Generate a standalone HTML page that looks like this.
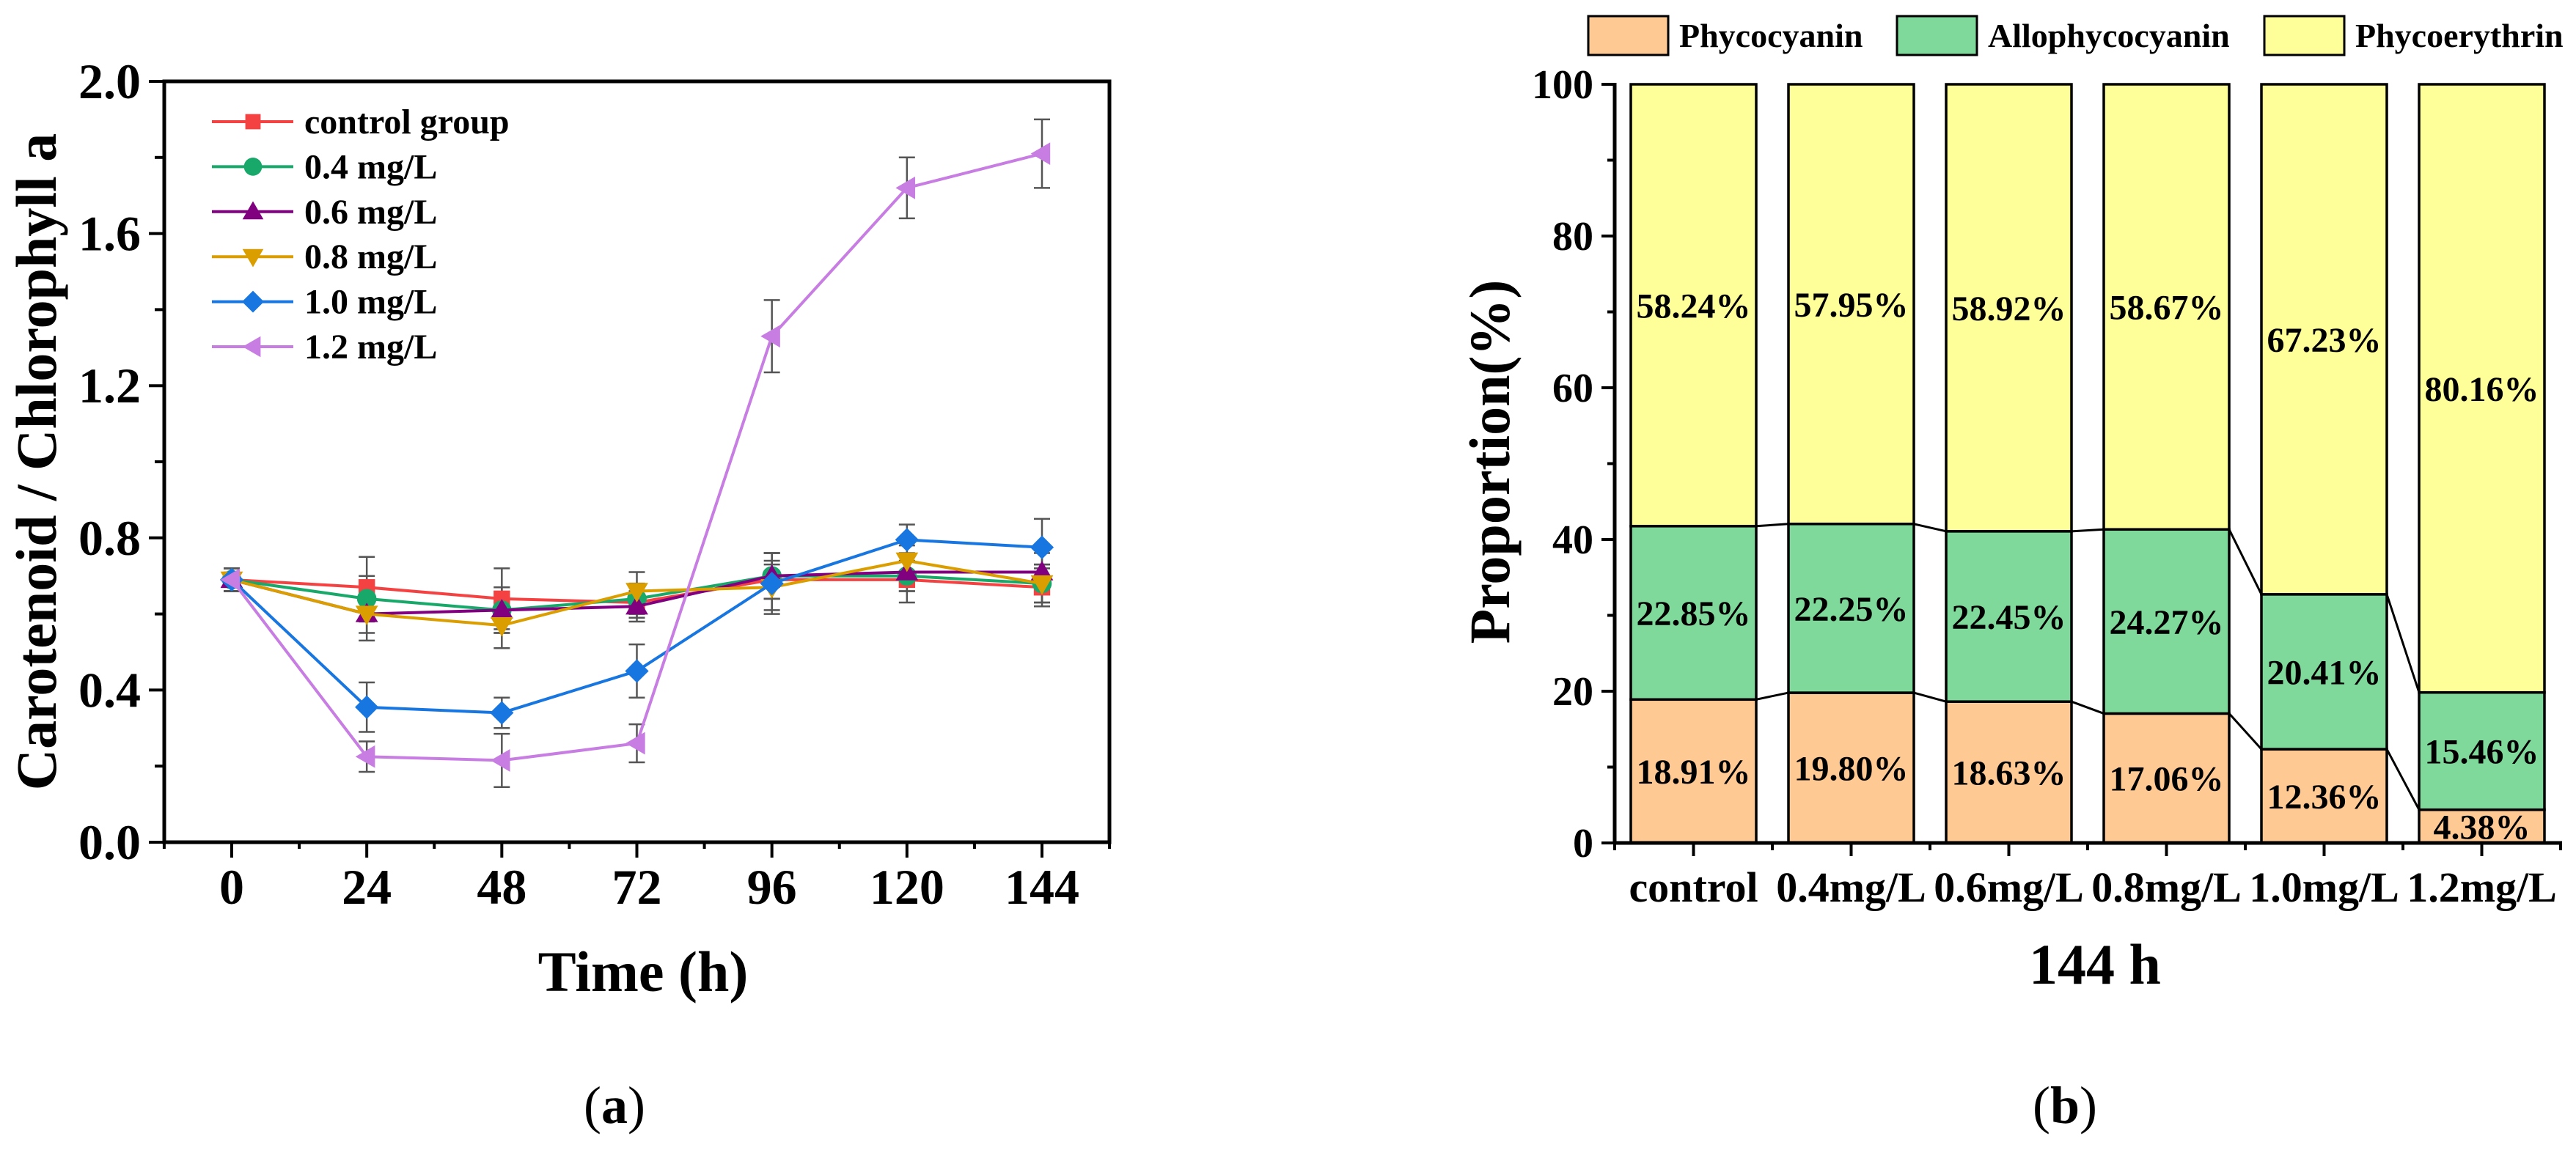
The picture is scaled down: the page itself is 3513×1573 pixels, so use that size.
<!DOCTYPE html>
<html><head><meta charset="utf-8"><style>
html,body{margin:0;padding:0;background:#fff;}
svg{display:block;font-family:"Liberation Serif",serif;}
</style></head><body>
<svg id="root" width="3513" height="1573" viewBox="0 0 3513 1573" xmlns="http://www.w3.org/2000/svg">
<g id="left"></g>
<g id="right"></g>
<text x="838" y="1532" font-size="72" text-anchor="middle">(<tspan font-weight="bold">a</tspan>)</text>
<text x="2816" y="1532" font-size="72" text-anchor="middle">(<tspan font-weight="bold">b</tspan>)</text>
</svg>
<script>
const NS="http://www.w3.org/2000/svg";
// ---------- Chart A data ----------
const times=[0,24,48,72,96,120,144];
const seriesNames=["control group","0.4 mg/L","0.6 mg/L","0.8 mg/L","1.0 mg/L","1.2 mg/L"];
const valsControl=[0.69,0.67,0.64,0.63,0.69,0.69,0.67];
const vals04=[0.69,0.64,0.61,0.64,0.70,0.70,0.68];
const vals06=[0.69,0.60,0.61,0.62,0.70,0.71,0.71];
const vals08=[0.69,0.60,0.57,0.66,0.67,0.74,0.68];
const vals10=[0.69,0.355,0.34,0.45,0.68,0.795,0.775];
const vals12=[0.69,0.225,0.215,0.26,1.33,1.72,1.81];
const errControl=[0.03,0.08,0.08,0.04,0.05,0.06,0.05];
const err04=[0.03,0.06,0.06,0.04,0.06,0.04,0.05];
const err06=[0.03,0.05,0.06,0.04,0.06,0.05,0.05];
const err08=[0.03,0.07,0.06,0.05,0.06,0.04,0.05];
const err10=[0.03,0.065,0.04,0.07,0.08,0.04,0.075];
const err12=[0.03,0.04,0.07,0.05,0.095,0.08,0.09];
const yTicksA=["0.0","0.4","0.8","1.2","1.6","2.0"];
// ---------- Chart B data ----------
const cats=["control","0.4mg/L","0.6mg/L","0.8mg/L","1.0mg/L","1.2mg/L"];
const pcVals=[18.91,19.80,18.63,17.06,12.36,4.38];
const apcVals=[22.85,22.25,22.45,24.27,20.41,15.46];
const peVals=[58.24,57.95,58.92,58.67,67.23,80.16];
const yTicksB=["0","20","40","60","80","100"];

function el(parent,tag,attrs,text){const e=document.createElementNS(NS,tag);for(const k in attrs)e.setAttribute(k,attrs[k]);if(text!==undefined)e.textContent=text;parent.appendChild(e);return e;}

// ===== Chart A =====
const A=document.getElementById('left');
const ax=t=>316+t*(1105/144);
const ay=v=>1149-v*519;
const colors=["#F44242","#17A86A","#800080","#DA9E00","#1876E0","#C77DE2"];
const allVals=[valsControl,vals04,vals06,vals08,vals10,vals12];
const allErr=[errControl,err04,err06,err08,err10,err12];
const markers=["square","circle","tri-up","tri-down","diamond","tri-left"];
function marker(g,type,x,y,c,s){
  let e;
  if(type==="square")e=el(g,'rect',{x:x-s*0.8,y:y-s*0.8,width:s*1.6,height:s*1.6,fill:c});
  else if(type==="circle")e=el(g,'circle',{cx:x,cy:y,r:s*0.95,fill:c});
  else{let p;
    if(type==="tri-up")p=[[x,y-s*1.1],[x+s*1.1,y+s*0.8],[x-s*1.1,y+s*0.8]];
    else if(type==="tri-down")p=[[x,y+s*1.1],[x+s*1.1,y-s*0.8],[x-s*1.1,y-s*0.8]];
    else if(type==="diamond")p=[[x,y-s*1.15],[x+s*1.15,y],[x,y+s*1.15],[x-s*1.15,y]];
    else p=[[x-s*1.1,y],[x+s*0.8,y-s*1.1],[x+s*0.8,y+s*1.1]];
    e=el(g,'polygon',{points:p.map(q=>q.join(',')).join(' '),fill:c});}
  
  
}
// error bars
allVals.forEach((vals,si)=>{
  const g=el(A,'g',{});
  
  
  vals.forEach((v,i)=>{const x=ax(times[i]),e=allErr[si][i];
    el(g,'line',{x1:x,x2:x,y1:ay(v+e),y2:ay(v-e),stroke:"#555",'stroke-width':2.5});
    el(g,'line',{x1:x-11,x2:x+11,y1:ay(v+e),y2:ay(v+e),stroke:"#555",'stroke-width':2.5});
    el(g,'line',{x1:x-11,x2:x+11,y1:ay(v-e),y2:ay(v-e),stroke:"#555",'stroke-width':2.5});
  });
});
allVals.forEach((vals,si)=>{
  const g=el(A,'g',{});
  
  
  const pl=el(g,'polyline',{points:vals.map((v,i)=>ax(times[i])+','+ay(v)).join(' '),fill:'none',stroke:colors[si],'stroke-width':4});
  
  
  vals.forEach((v,i)=>marker(g,markers[si],ax(times[i]),ay(v),colors[si],14));
});
// frame
el(A,'rect',{x:224,y:111,width:1289,height:1038,fill:'none',stroke:'#000','stroke-width':5});
// y ticks
for(let i=0;i<=10;i++){const v=i*0.2,y=ay(v);el(A,'line',{x1:i%2?211:203,x2:224,y1:y,y2:y,stroke:'#000','stroke-width':4});}
yTicksA.forEach(t=>{const tx=el(A,'text',{x:192,y:ay(parseFloat(t))+23,'font-size':68,'font-weight':'bold','text-anchor':'end'},t);
  });
// x ticks
for(let h=-12;h<=156;h+=12){const x=ax(h);const major=(h%24===0&&h>=0&&h<=144);el(A,'line',{x1:x,x2:x,y1:1149,y2:major?1170:1158,stroke:'#000','stroke-width':4});}
times.forEach(t=>{const tx=el(A,'text',{x:ax(t),y:1233,'font-size':68,'font-weight':'bold','text-anchor':'middle'},String(t));
  });
el(A,'text',{x:877,y:1352,'font-size':78,'font-weight':'bold','text-anchor':'middle',},'Time (h)');
el(A,'text',{x:0,y:0,'font-size':78,'font-weight':'bold','text-anchor':'middle',transform:'translate(76,630) rotate(-90)',},'Carotenoid / Chlorophyll a');
// legend
seriesNames.forEach((n,si)=>{const y=166+si*61.4;const g=el(A,'g',{});
  
  el(g,'line',{x1:289,x2:400,y1:y,y2:y,stroke:colors[si],'stroke-width':4});
  marker(g,markers[si],345,y,colors[si],13);
  el(g,'text',{x:415,y:y+16,'font-size':48,'font-weight':'bold'},n);
});

// ===== Chart B =====
const B=document.getElementById('right');
const by=p=>1150-p*10.35;
const bx=i=>2202+107.5+215*i;
const bw=171;
const fills=["#FFC993","#7FD99B","#FFFF99"];
cats.forEach((c,i)=>{
  const g=el(B,'g',{});
  
  
  const segs=[pcVals[i],apcVals[i],peVals[i]];let base=0;
  segs.forEach((s,k)=>{const top=(k===2)?100:base+s;
    const r=el(g,'rect',{x:bx(i)-bw/2,y:by(top),width:bw,height:by(base)-by(top),fill:fills[k],stroke:'#000','stroke-width':3.5});
    
    
    const t=el(g,'text',{x:bx(i),y:by((base+top)/2)+17,'font-size':48,'font-weight':'bold','text-anchor':'middle'},s.toFixed(2)+'%');
    
    base=top;});
  if(i<cats.length-1){
    const b1=pcVals[i],b2=pcVals[i+1],c1=pcVals[i]+apcVals[i],c2=pcVals[i+1]+apcVals[i+1];
    el(g,'line',{x1:bx(i)+bw/2,x2:bx(i+1)-bw/2,y1:by(b1),y2:by(b2),stroke:'#000','stroke-width':3});
    el(g,'line',{x1:bx(i)+bw/2,x2:bx(i+1)-bw/2,y1:by(c1),y2:by(c2),stroke:'#000','stroke-width':3});
  }
});
// axes
el(B,'line',{x1:2202,x2:2202,y1:113,y2:1152,stroke:'#000','stroke-width':5});
el(B,'line',{x1:2200,x2:3494,y1:1150,y2:1150,stroke:'#000','stroke-width':5});
for(let p=0;p<=100;p+=10){el(B,'line',{x1:p%20?2192:2184,x2:2202,y1:by(p),y2:by(p),stroke:'#000','stroke-width':4});}
yTicksB.forEach(t=>{const tx=el(B,'text',{x:2173,y:by(parseFloat(t))+19,'font-size':56,'font-weight':'bold','text-anchor':'end'},t);
  });
for(let i=0;i<=6;i++){const x=2202+215*i;el(B,'line',{x1:x,x2:x,y1:1150,y2:1160,stroke:'#000','stroke-width':4});}
cats.forEach((c,i)=>{el(B,'line',{x1:bx(i),x2:bx(i),y1:1150,y2:1168,stroke:'#000','stroke-width':4});
  const tx=el(B,'text',{x:bx(i),y:1230,'font-size':58,'font-weight':'bold','text-anchor':'middle'},c);
  });
el(B,'text',{x:2857,y:1342,'font-size':78,'font-weight':'bold','text-anchor':'middle',},'144 h');
el(B,'text',{x:0,y:0,'font-size':78,'font-weight':'bold','text-anchor':'middle',transform:'translate(2058,630) rotate(-90)',},'Proportion(%)');
// legend
const legNames=["Phycocyanin","Allophycocyanin","Phycoerythrin"];
const legBox=[2166,2587,3088];
legNames.forEach((n,k)=>{const g=el(B,'g',{});
  
  el(g,'rect',{x:legBox[k],y:22,width:109,height:53,fill:fills[k],stroke:'#000','stroke-width':3});
  el(g,'text',{x:legBox[k]+124,y:64,'font-size':46,'font-weight':'bold'},n);
});
</script>
</body></html>
